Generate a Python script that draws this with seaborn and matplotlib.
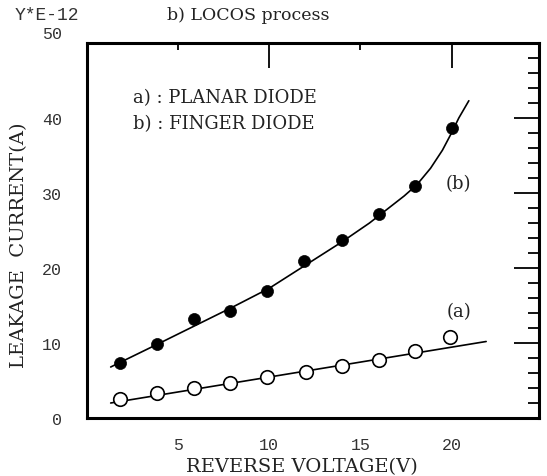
import numpy as np
import pandas as pd
import seaborn as sns
import matplotlib
matplotlib.use("Agg")
import matplotlib.pyplot as plt
import matplotlib.transforms as mtransforms
from matplotlib.ticker import FixedLocator, FormatStrFormatter, NullFormatter

# measured points (reverse voltage in V, leakage current in 1e-12 A)
planar_v = [1.8, 3.85, 5.85, 7.85, 9.9, 12.0, 14.0, 16.0, 18.0, 19.9]
planar_i = [2.5, 3.3, 4.0, 4.7, 5.5, 6.2, 7.0, 7.8, 9.0, 10.75]
finger_v = [1.8, 3.85, 5.85, 7.85, 9.9, 11.9, 14.0, 16.0, 18.0, 20.0]
finger_i = [7.3, 9.9, 13.2, 14.3, 16.9, 21.0, 23.7, 27.2, 31.0, 38.7]

# hand drawn trend curves
planar_fit_v = [1.3, 21.9]
planar_fit_i = [2.0, 10.2]
finger_fit_v = [1.3, 4, 6, 8, 10, 12, 14, 15.5, 17.4, 18.1, 18.85, 19.5, 20.0, 20.4, 20.95]
finger_fit_i = [6.8, 10.0, 12.4, 14.8, 17.3, 20.4, 23.5, 26.0, 29.6, 31.1, 33.3, 35.7, 38.0, 40.0, 42.3]

x_labels = [5, 10, 15, 20]
y_labels = [0, 10, 20, 30, 40, 50]

sns.set_style("white")
plt.rcParams['font.family'] = ['DejaVu Serif']

fig = plt.figure(figsize=(5.47, 4.77), dpi=100)
ax = fig.add_axes([87 / 547, 1 - 419 / 477, 452 / 547, 375 / 477])

pts_a = pd.DataFrame({"v": planar_v, "i": planar_i})
pts_b = pd.DataFrame({"v": finger_v, "i": finger_i})

sns.lineplot(x=planar_fit_v, y=planar_fit_i, ax=ax, color="black", lw=1.2,
             sort=False, zorder=2)
sns.lineplot(x=finger_fit_v, y=finger_fit_i, ax=ax, color="black", lw=1.2,
             sort=False, zorder=2)
sns.scatterplot(data=pts_b, x="v", y="i", ax=ax, color="black", s=75,
                edgecolor="black", linewidth=0.5, zorder=3)
sns.scatterplot(data=pts_a, x="v", y="i", ax=ax, facecolor="white", s=95,
                edgecolor="black", linewidth=1.2, zorder=3)

ax.set_xlim(0, 24.8)
ax.set_ylim(0, 50)

# x: long ticks at 10/20, short at 5/15, labels on all four
ax.xaxis.set_major_locator(FixedLocator([v for v in x_labels if v % 10 == 0]))
ax.xaxis.set_minor_locator(FixedLocator([v for v in x_labels if v % 10]))
ax.xaxis.set_major_formatter(FormatStrFormatter('%d'))
ax.xaxis.set_minor_formatter(FormatStrFormatter('%d'))
# y: long ticks every 10, short every 2
ax.yaxis.set_major_locator(FixedLocator(y_labels))
ax.yaxis.set_minor_locator(FixedLocator([v for v in range(2, 50, 2) if v % 10]))
ax.yaxis.set_major_formatter(FormatStrFormatter('%d'))
ax.yaxis.set_minor_formatter(NullFormatter())

ax.tick_params(which='both', direction='in', top=True, right=True,
               color='black', labelcolor='#333333', labelsize=12,
               labelfontfamily='Liberation Mono')
ax.tick_params(axis='x', which='major', length=18, width=1.3, pad=14)
ax.tick_params(axis='x', which='minor', length=5, width=1.3, pad=14)
ax.tick_params(axis='y', which='major', length=18, width=1.3, pad=18)
ax.tick_params(axis='y', which='minor', length=8, width=1.3)

# the "50" sits a little above the top spine in the scan
top_lab = ax.yaxis.get_major_ticks()[-1].label1
top_lab.set_transform(top_lab.get_transform() +
                      mtransforms.ScaledTranslation(0, 8 / 72, fig.dpi_scale_trans))

for sp in ax.spines.values():
    sp.set_visible(True)
    sp.set_linewidth(2.2)
    sp.set_color('black')

ax.set_xlabel("REVERSE VOLTAGE(V)", fontsize=14, color='#222222')
ax.xaxis.set_label_coords((302 - 87) / 452, -0.104)
ax.set_ylabel("LEAKAGE  CURRENT(A)", fontsize=14, color='#222222')
ax.yaxis.set_label_coords(-0.13, 0.464)

ax.text(2.5, 42.8, "a) : PLANAR DIODE", fontsize=13, va='center', color='#222222')
ax.text(2.5, 39.3, "b) : FINGER DIODE", fontsize=13, va='center', color='#222222')
ax.annotate("(b)", xy=(20.35, 31.3), fontsize=13, va='center', ha='center', color='#222222')
ax.annotate("(a)", xy=(20.4, 14.3), fontsize=13, va='center', ha='center', color='#222222')

fig.text(15 / 547, 1 - 15 / 477, "Y*E-12", fontsize=13, family='Liberation Mono',
         color='#333333', va='center')
fig.text(167 / 547, 1 - 15 / 477, "b) LOCOS process", fontsize=12.5, va='center',
         color='#222222')

fig.savefig("out.png", dpi=100)
